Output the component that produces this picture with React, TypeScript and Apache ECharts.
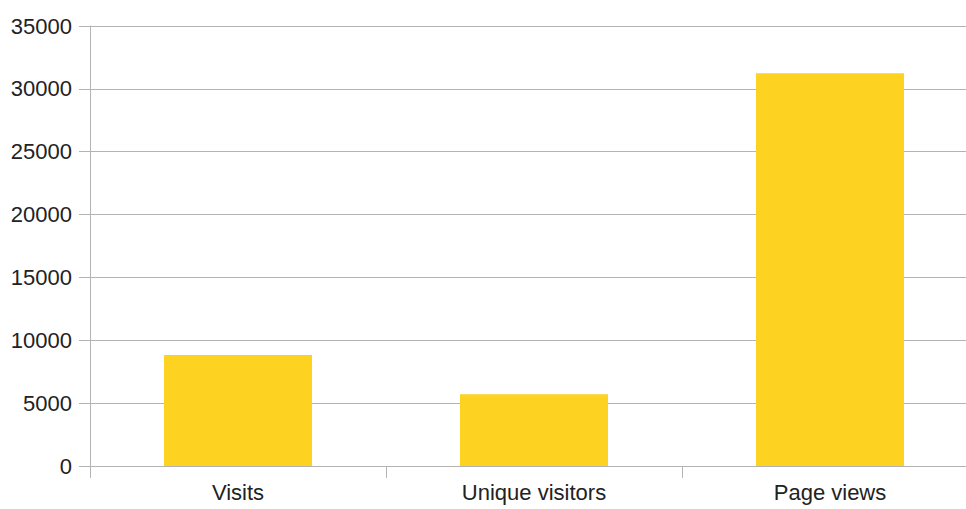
import React, { useEffect, useRef } from "react";
import * as echarts from "echarts";

const categories = ["Visits", "Unique visitors", "Page views"];
const values = [8830, 5700, 31250];
const yTicks = { min: 0, max: 35000, interval: 5000 };

export default function App() {
  const ref = useRef<HTMLDivElement>(null);
  useEffect(() => {
    if (!ref.current) return;
    const chart = echarts.init(ref.current, null, { renderer: "svg" });
    chart.setOption({
      animation: false,
      backgroundColor: "#ffffff",
      textStyle: { fontFamily: "Liberation Sans, Arial, sans-serif" },
      grid: { left: 90, top: 26, width: 888, height: 440, containLabel: false, outerBoundsMode: "none" },
      xAxis: {
        type: "category",
        data: categories,
        boundaryGap: true,
        axisLine: { show: true, lineStyle: { color: "#b3b3b3", width: 1 } },
        axisTick: { show: true, length: 12, lineStyle: { color: "#b3b3b3" } },
        axisLabel: { color: "#222", fontSize: 22, margin: 15 },
        splitLine: { show: false },
      },
      yAxis: {
        type: "value",
        min: yTicks.min,
        max: yTicks.max,
        interval: yTicks.interval,
        axisLine: { show: true, lineStyle: { color: "#b3b3b3", width: 1 } },
        axisTick: { show: true, length: 11, lineStyle: { color: "#b3b3b3" } },
        axisLabel: { color: "#222", fontSize: 22, margin: 18, formatter: (v: number) => String(v) },
        splitLine: { show: true, lineStyle: { color: "#b3b3b3", width: 1 } },
      },
      series: [
        {
          type: "bar",
          data: values,
          barWidth: 148,
          itemStyle: { color: "#fdd221" },
        },
      ],
    });
    return () => chart.dispose();
  }, []);
  return (
    <div
      ref={ref}
      style={{ position: "fixed", left: 0, top: 0, width: 966, height: 509, background: "#fff" }}
    />
  );
}
